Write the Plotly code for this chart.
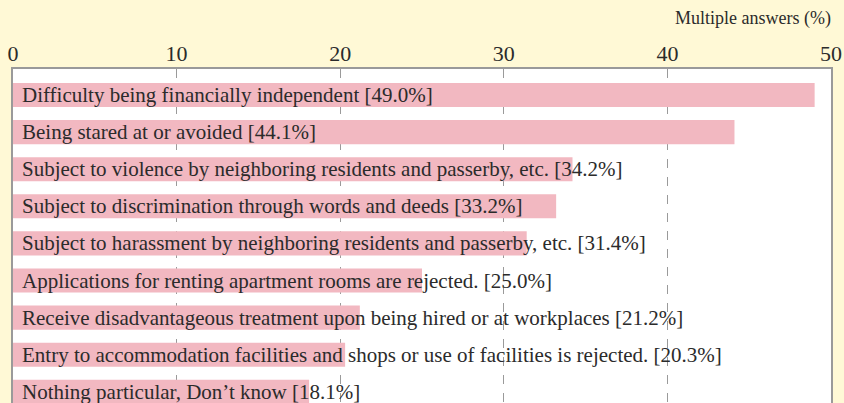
import plotly.graph_objects as go

categories = [
    "Difficulty being financially independent",
    "Being stared at or avoided",
    "Subject to violence by neighboring residents and passerby, etc.",
    "Subject to discrimination through words and deeds",
    "Subject to harassment by neighboring residents and passerby, etc.",
    "Applications for renting apartment rooms are rejected.",
    "Receive disadvantageous treatment upon being hired or at workplaces",
    "Entry to accommodation facilities and shops or use of facilities is rejected.",
    "Nothing particular, Don\u2019t know",
]
values = [49.0, 44.1, 34.2, 33.2, 31.4, 25.0, 21.2, 20.3, 18.1]
tick_vals = [0, 10, 20, 30, 40, 50]
tick_labels = ["0", "10", "20", "30", "40", "50"]

FONT = "Liberation Serif"
TXT = "#2b2b2b"
BG = "#FFF9D6"
pos = list(range(len(categories)))

fig = go.Figure()
fig.add_trace(go.Bar(
    x=values, y=pos, orientation="h",
    marker=dict(color="#F2B8C1", line=dict(width=0)),
    width=0.65, hoverinfo="skip",
))

for i, (c, v) in enumerate(zip(categories, values)):
    fig.add_annotation(
        x=0, y=i, xref="x", yref="y",
        text=f"{c} [{v:.1f}%]",
        showarrow=False, xanchor="left", yanchor="middle",
        xshift=7, font=dict(family=FONT, size=21, color=TXT),
    )

fig.add_annotation(
    x=1.003, y=1, xref="paper", yref="paper", yshift=51,
    text="Multiple answers (%)", showarrow=False,
    xanchor="right", yanchor="middle",
    font=dict(family=FONT, size=18, color=TXT),
)

fig.update_layout(
    width=844, height=403,
    margin=dict(l=13, r=13, t=69, b=0),
    paper_bgcolor=BG, plot_bgcolor="#FFFFFF",
    showlegend=False,
    font=dict(family=FONT, color=TXT),
    xaxis=dict(
        side="top", range=[0, 50], tickvals=tick_vals, ticktext=tick_labels,
        tickfont=dict(family=FONT, size=22, color=TXT),
        ticklabelstandoff=-3,
        showgrid=True, gridcolor="#9a9a9a", griddash="dash", gridwidth=1,
        showline=True, linecolor="#9a9a9a", linewidth=2, mirror=False,
        zeroline=False, ticks="", fixedrange=True,
    ),
    yaxis=dict(
        range=[8.3, -0.7], showticklabels=False, showgrid=False,
        showline=True, linecolor="#9a9a9a", linewidth=2, mirror=True,
        zeroline=False, ticks="", fixedrange=True,
    ),
)

fig.write_html(
    "out.html",
    config={"displayModeBar": False},
    post_script="document.body.style.margin='0';document.body.style.padding='0';"
                "document.body.style.overflow='hidden';document.body.style.background='" + BG + "';",
)
